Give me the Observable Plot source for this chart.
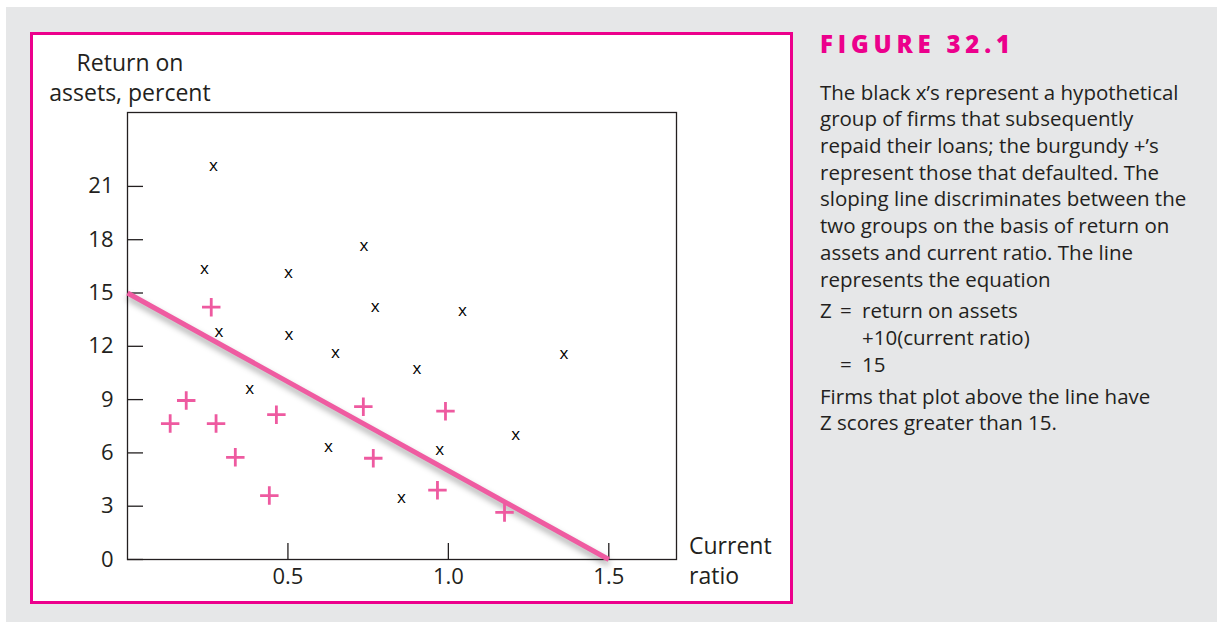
<!DOCTYPE html>
<html>
<head>
<meta charset="utf-8">
<script src="https://cdn.jsdelivr.net/npm/d3@7"></script>
<script src="https://cdn.jsdelivr.net/npm/@observablehq/plot@0.6"></script>
<style>
  html, body { margin: 0; padding: 0; background: #ffffff; }
  body { width: 1217px; height: 622px; position: relative; overflow: hidden; font-family: "Open Sans", Lato, sans-serif; color: #231f20; }
  #bg { position: absolute; left: 6px; top: 7px; width: 1211px; height: 615px; background: #e6e7e8; }
  #box { position: absolute; left: 30px; top: 32px; width: 757px; height: 566px; border: 3px solid #ec008c; background: #ffffff; }
  #chart { position: absolute; left: 0; top: 0; }
  .lbl { position: absolute; font-size: 23px; line-height: 30px; white-space: nowrap; }
  #ylab { left: 0px; width: 194px; top: 12px; text-align: center; }
  #xlab { left: 656px; top: 495px; text-align: left; }
  .cap { position: absolute; left: 820px; white-space: nowrap; font-size: 20.5px; color: #231f20; }
  #fig { top: 30px; line-height: 28px; font-size: 24px; font-weight: 800; letter-spacing: 0.2em; color: #ec008c; }
  #p1 { top: 78.6px; line-height: 26.7px; }
  #eq { top: 296.5px; line-height: 27px; width: 380px; height: 81px; }
  #eq span { position: absolute; }
  #p3 { top: 382.7px; line-height: 26.5px; }
</style>
</head>
<body>
<div id="bg"></div>
<div id="box">
  <div id="chart"></div>
  <div class="lbl" id="ylab">Return on<br>assets, percent</div>
  <div class="lbl" id="xlab">Current<br>ratio</div>
</div>
<div class="cap" id="fig">FIGURE 32.1</div>
<div class="cap" id="p1">The black x’s represent a hypothetical<br>group of firms that subsequently<br>repaid their loans; the burgundy +’s<br>represent those that defaulted. The<br>sloping line discriminates between the<br>two groups on the basis of return on<br>assets and current ratio. The line<br>represents the equation</div>
<div class="cap" id="eq">
  <span style="left:0;top:0">Z</span><span style="left:20px;top:0">=</span><span style="left:42px;top:0">return on assets</span>
  <span style="left:42px;top:27px">+10(current ratio)</span>
  <span style="left:20px;top:54px">=</span><span style="left:42px;top:54px">15</span>
</div>
<div class="cap" id="p3">Firms that plot above the line have<br>Z scores greater than 15.</div>
<script>
// Firms that repaid their loans (black x's)
const repaidRatio = [0.268, 0.240, 0.502, 0.737, 0.772, 1.044, 0.285, 0.503, 0.648, 1.360, 0.902, 0.381, 1.210, 0.626, 0.973, 0.854];
const repaidReturn = [22.1, 16.3, 16.1, 17.6, 14.2, 13.95, 12.8, 12.6, 11.6, 11.55, 10.7, 9.55, 7.0, 6.3, 6.15, 3.45];
// Firms that defaulted (pink +'s)
const defaultRatio = [0.261, 0.183, 0.133, 0.276, 0.336, 0.464, 0.442, 0.735, 0.766, 0.991, 0.966, 1.175];
const defaultReturn = [14.2, 8.95, 7.65, 7.65, 5.75, 8.15, 3.6, 8.6, 5.7, 8.35, 3.9, 2.65];
// Discriminant line: return on assets + 10 * current ratio = 15
const lineRatio = [0, 1.5];
const lineReturn = [15, 0];
// Tick labels
const yTicks = [0, 3, 6, 9, 12, 15, 18, 21];
const xTicks = [0.5, 1.0, 1.5];

const repaid = repaidRatio.map((r, i) => ({ratio: r, ret: repaidReturn[i]}));
const defaulted = defaultRatio.map((r, i) => ({ratio: r, ret: defaultReturn[i]}));
const zLine = lineRatio.map((r, i) => ({ratio: r, ret: lineReturn[i]}));

const plot = Plot.plot({
  width: 757,
  height: 566,
  marginLeft: 94,
  marginRight: 114,
  marginTop: 77,
  marginBottom: 42,
  x: {domain: [0, 1.711], axis: null},
  y: {domain: [0, 25.16], axis: null},
  style: {fontFamily: "'Open Sans', Lato, sans-serif", fontSize: "22px", color: "#231f20", background: "transparent", overflow: "visible"},
  marks: [
    Plot.frame({stroke: "#231f20", strokeWidth: 1.3}),
    Plot.axisY({ticks: yTicks, anchor: "left", tickSize: 16, dx: 16, tickPadding: 14, tickFormat: d => String(d), label: null, stroke: "#231f20", strokeWidth: 1.3}),
    Plot.axisX({ticks: xTicks, anchor: "bottom", tickSize: 16, dy: -16, tickPadding: 9, tickFormat: d3.format(".1f"), label: null, stroke: "#231f20", strokeWidth: 1.3}),
    Plot.line(zLine, {x: "ratio", y: "ret", stroke: "#ef5ba1", strokeWidth: 5, strokeLinecap: "butt"}),
    Plot.text(repaid, {x: "ratio", y: "ret", text: () => "x", fontSize: 17, fill: "#000", dy: -1}),
    Plot.dot(defaulted, {x: "ratio", y: "ret", symbol: "plus", r: 6, stroke: "#ee5aa0", strokeWidth: 2.8})
  ]
});
document.getElementById("chart").appendChild(plot);
d3.select(plot).selectAll("g[aria-label='line']").style("filter", "drop-shadow(0px 4px 3px rgba(0,0,0,0.35))");
</script>
</body>
</html>
